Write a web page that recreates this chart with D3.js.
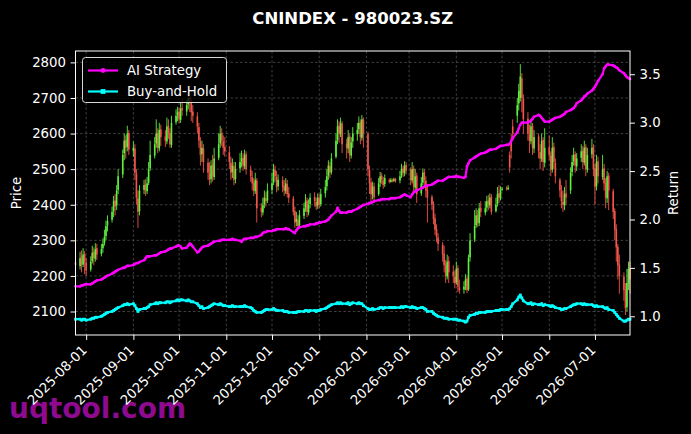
<!DOCTYPE html>
<html><head><meta charset="utf-8">
<script src="https://cdn.jsdelivr.net/npm/d3@7"></script>
<style>html,body{margin:0;padding:0;background:#000;} svg{display:block;}</style>
</head><body>
<svg id="c" width="691" height="434"></svg>
<script>
const title = "CNINDEX - 980023.SZ";
const startDate = "2025-07-25"; // first trading day; one value per weekday after it
const priceTicks = [2100, 2200, 2300, 2400, 2500, 2600, 2700, 2800];
const returnTicks = [1.0, 1.5, 2.0, 2.5, 3.0, 3.5];
const seriesNames = ["AI Strategy", "Buy-and-Hold"];

const open = [
2238,
2228,2255,2232,2262,2238, 2218,2242,2268,2248,2278, 2262,2278,2292,2312,2342, 2358,2382,2412,2398,2442,
2485,2545,2582,2562,2602, 2552,2558,2488,2418,2382, 2442,2458,2438,2462,2502, 2538,2572,2602,2558,2612,
2592,2578,2622,2602,2568, 2632,2652,2662,2638,2672, 2662,2682,2702,2688,2662, 2648,2618,2578,2542,2558,
2518,2488,2472,2512,2478, 2532,2572,2602,2578,2562, 2548,2518,2492,2508,2472, 2502,2522,2532,2508,2542,
2498,2478,2462,2438,2468, 2392,2378,2402,2418,2412, 2442,2462,2498,2478,2452, 2468,2452,2438,2458,2432,
2418,2382,2352,2358,2342, 2368,2392,2412,2378,2402, 2422,2408,2398,2418,2402, 2432,2452,2482,2508,2492,
2535,2582,2622,2598,2628, 2572,2558,2592,2538,2578, 2598,2612,2632,2588,2638, 2598,2498,2462,2428,2452,
2430,2462,2482,2468,2458, 2470,2464,2471,2467,2473, 2468,2482,2502,2488,2512, 2498,2468,2502,2448,2482,
2432,2462,2492,2468,2442, 2422,2398,2362,2332,2308, 2288,2262,2232,2198,2242, 2212,2198,2182,2222,2168,
2162,2172,2192,2162,2252, 2302,2342,2372,2348,2392, 2378,2392,2412,2398,2422, 2382,2402,2432,2418,2442,
2446,2444,2540,2580,2620, 2650,2685,2700,2755,2698, 2642,2598,2578,2622,2558, 2592,2548,2528,2582,2518,
2562,2538,2498,2562,2518, 2470,2438,2408,2398,2432, 2440,2492,2522,2542,2508, 2532,2552,2518,2562,2498,
2542,2562,2502,2452,2522, 2478,2502,2462,2418,2482, 2438,2382,2332,2282,2232, 2198,2162,2112,2178,2222
];
const high = [
2255,
2268,2272,2278,2270,2250, 2255,2285,2280,2292,2290, 2290,2305,2330,2355,2370, 2395,2425,2430,2455,2500,
2555,2600,2595,2622,2610, 2578,2570,2500,2440,2455, 2470,2472,2478,2520,2580, 2590,2640,2615,2630,2625,
2610,2645,2640,2615,2650, 2668,2675,2672,2690,2700, 2695,2712,2710,2700,2680, 2660,2630,2590,2580,2570,
2530,2520,2525,2540,2560, 2600,2622,2615,2595,2590, 2565,2535,2530,2520,2520, 2545,2552,2545,2555,2550,
2510,2495,2475,2490,2475, 2405,2420,2440,2435,2460, 2490,2515,2510,2495,2485, 2480,2470,2475,2470,2450,
2425,2395,2380,2372,2385, 2405,2430,2420,2415,2432, 2435,2420,2432,2430,2445, 2470,2500,2525,2520,2545,
2600,2640,2635,2645,2635, 2585,2610,2600,2590,2618, 2630,2648,2640,2652,2645, 2605,2510,2475,2465,2462,
2475,2492,2490,2478,2485, 2474,2475,2473,2476,2475, 2495,2515,2510,2522,2520, 2505,2520,2510,2500,2490,
2478,2502,2500,2480,2450, 2428,2410,2375,2345,2320, 2295,2285,2245,2260,2255, 2230,2215,2240,2230,2190,
2185,2205,2198,2260,2320, 2385,2390,2385,2405,2410, 2410,2425,2428,2432,2430, 2420,2450,2455,2452,2450,
2452,2455,2550,2600,2640, 2700,2740,2795,2770,2710, 2660,2625,2640,2630,2610, 2600,2570,2600,2590,2615,
2595,2550,2590,2575,2530, 2475,2455,2440,2450,2470, 2505,2540,2560,2550,2545, 2570,2565,2580,2570,2560,
2585,2570,2515,2540,2535, 2540,2515,2475,2495,2490, 2445,2390,2345,2290,2260, 2210,2180,2220,2240,2240
];
const low = [
2215,
2218,2210,2225,2205,2200, 2212,2235,2230,2240,2245, 2255,2265,2285,2300,2325, 2350,2365,2370,2385,2430,
2475,2525,2530,2550,2540, 2535,2470,2400,2335,2370, 2430,2425,2430,2455,2495, 2530,2560,2545,2550,2565,
2562,2570,2585,2560,2560, 2625,2635,2630,2630,2650, 2650,2668,2660,2635,2630, 2600,2560,2510,2520,2490,
2470,2455,2460,2465,2470, 2525,2560,2565,2540,2535, 2500,2470,2475,2455,2460, 2490,2505,2495,2500,2485,
2465,2440,2425,2430,2350, 2365,2370,2390,2395,2405, 2430,2455,2465,2435,2440, 2435,2425,2430,2420,2405,
2370,2335,2340,2330,2335, 2360,2380,2365,2370,2390, 2395,2385,2388,2390,2395, 2420,2440,2470,2475,2485,
2530,2570,2575,2590,2545, 2530,2545,2520,2530,2560, 2580,2600,2570,2580,2560, 2480,2430,2405,2415,2405,
2425,2450,2458,2445,2450, 2460,2462,2463,2464,2462, 2460,2475,2478,2480,2485, 2455,2460,2430,2440,2405,
2425,2455,2455,2420,2350, 2385,2345,2315,2295,2270, 2240,2210,2180,2190,2180, 2180,2165,2175,2155,2150,
2150,2160,2152,2158,2240, 2295,2335,2338,2340,2365, 2370,2380,2385,2390,2372, 2378,2395,2405,2412,2438,
2440,2441,2490,2530,2580, 2630,2665,2690,2660,2600, 2580,2545,2570,2540,2545, 2530,2500,2520,2495,2505,
2525,2480,2490,2500,2460, 2420,2390,2380,2385,2400, 2430,2480,2510,2490,2495, 2520,2500,2510,2480,2490,
2530,2480,2400,2440,2460, 2470,2440,2390,2405,2385, 2360,2300,2240,2190,2150, 2130,2090,2100,2160,2150
];
const close = [
2230,
2250,2230,2260,2240,2215, 2240,2265,2250,2275,2260, 2275,2290,2310,2340,2355, 2380,2410,2395,2440,2480,
2540,2580,2560,2600,2555, 2560,2490,2420,2380,2440, 2455,2440,2460,2500,2540, 2570,2600,2560,2610,2590,
2580,2620,2600,2570,2630, 2650,2660,2640,2670,2665, 2680,2700,2690,2660,2650, 2620,2580,2540,2560,2520,
2490,2470,2510,2480,2530, 2570,2600,2580,2560,2550, 2520,2490,2510,2470,2500, 2520,2530,2510,2540,2500,
2480,2460,2440,2470,2390, 2380,2400,2420,2410,2440, 2460,2500,2480,2450,2470, 2450,2440,2460,2430,2420,
2380,2350,2360,2340,2370, 2390,2410,2380,2400,2420, 2410,2395,2420,2400,2430, 2450,2480,2510,2490,2530,
2580,2620,2600,2630,2570, 2560,2590,2540,2575,2600, 2610,2630,2590,2640,2600, 2500,2460,2430,2450,2420,
2460,2480,2470,2455,2475, 2465,2470,2468,2472,2466, 2480,2500,2490,2510,2495, 2470,2500,2450,2480,2430,
2460,2490,2470,2440,2420, 2400,2360,2330,2310,2290, 2260,2230,2200,2240,2210, 2200,2180,2220,2170,2160,
2170,2190,2160,2250,2300, 2340,2370,2350,2390,2380, 2390,2410,2400,2420,2380, 2400,2430,2420,2440,2445,
2445,2448,2505,2550,2600, 2680,2720,2760,2700,2640, 2600,2580,2620,2560,2590, 2550,2530,2580,2520,2560,
2540,2500,2560,2520,2480, 2440,2410,2400,2430,2420, 2490,2520,2540,2510,2530, 2550,2520,2560,2500,2540,
2560,2500,2450,2520,2480, 2500,2460,2420,2480,2440, 2380,2330,2280,2230,2200, 2160,2110,2180,2220,2190
];
const aiStrategy = [
1.31,
1.31,1.32,1.32,1.33,1.33, 1.33,1.34,1.35,1.36,1.37, 1.38,1.39,1.40,1.41,1.42, 1.44,1.45,1.46,1.47,1.48,
1.50,1.50,1.51,1.52,1.52, 1.53,1.54,1.55,1.55,1.56, 1.58,1.60,1.62,1.62,1.62, 1.63,1.63,1.64,1.65,1.66,
1.67,1.68,1.69,1.70,1.70, 1.72,1.73,1.73,1.72,1.70, 1.71,1.73,1.75,1.74,1.72, 1.66,1.67,1.69,1.71,1.72,
1.73,1.74,1.75,1.76,1.77, 1.78,1.78,1.79,1.79,1.79, 1.79,1.79,1.80,1.79,1.79, 1.78,1.77,1.79,1.80,1.80,
1.81,1.81,1.81,1.82,1.82, 1.84,1.86,1.87,1.87,1.88, 1.88,1.89,1.89,1.90,1.90, 1.90,1.90,1.91,1.90,1.90,
1.87,1.86,1.89,1.91,1.92, 1.93,1.93,1.94,1.94,1.95, 1.95,1.96,1.96,1.97,1.97, 1.98,1.99,2.00,2.02,2.04,
2.08,2.12,2.09,2.07,2.07, 2.07,2.08,2.08,2.08,2.09, 2.11,2.12,2.13,2.14,2.15, 2.16,2.17,2.17,2.18,2.19,
2.20,2.20,2.21,2.21,2.21, 2.21,2.22,2.22,2.22,2.22, 2.23,2.24,2.25,2.26,2.25, 2.23,2.26,2.28,2.29,2.30,
2.32,2.33,2.34,2.35,2.35, 2.36,2.37,2.38,2.39,2.40, 2.40,2.41,2.42,2.43,2.44, 2.44,2.44,2.45,2.44,2.44,
2.43,2.44,2.55,2.58,2.61, 2.64,2.65,2.66,2.67,2.68, 2.69,2.70,2.71,2.72,2.72, 2.73,2.74,2.75,2.76,2.76,
2.77,2.77,2.78,2.81,2.84, 2.90,2.94,2.98,3.00,3.00, 3.00,3.01,3.02,3.04,3.06, 3.08,3.07,3.05,3.03,3.01,
3.01,3.02,3.03,3.04,3.05, 3.06,3.07,3.08,3.09,3.11, 3.13,3.14,3.15,3.17,3.20, 3.23,3.25,3.27,3.28,3.30,
3.33,3.35,3.37,3.40,3.43, 3.50,3.56,3.58,3.60,3.60, 3.59,3.58,3.57,3.56,3.54, 3.51,3.49,3.47,3.46,3.45
];
const buyHold = [
0.97,
0.97,0.96,0.97,0.97,0.96, 0.97,0.98,0.98,0.99,0.99, 1.00,1.01,1.02,1.03,1.04, 1.05,1.06,1.07,1.08,1.09,
1.11,1.12,1.12,1.13,1.12, 1.13,1.11,1.08,1.05,1.07, 1.08,1.08,1.09,1.10,1.12, 1.13,1.14,1.13,1.14,1.14,
1.14,1.15,1.15,1.14,1.15, 1.16,1.17,1.16,1.17,1.17, 1.16,1.17,1.16,1.15,1.15, 1.13,1.11,1.09,1.10,1.08,
1.09,1.10,1.11,1.12,1.13, 1.12,1.13,1.12,1.11,1.11, 1.10,1.10,1.11,1.10,1.10, 1.10,1.10,1.10,1.11,1.10,
1.09,1.08,1.06,1.05,1.04, 1.04,1.05,1.06,1.07,1.07, 1.07,1.08,1.07,1.06,1.06, 1.06,1.05,1.05,1.05,1.04,
1.04,1.04,1.04,1.05,1.05, 1.05,1.06,1.06,1.05,1.06, 1.06,1.05,1.06,1.06,1.07, 1.08,1.09,1.10,1.11,1.12,
1.13,1.14,1.13,1.14,1.13, 1.13,1.14,1.12,1.13,1.14, 1.13,1.14,1.13,1.13,1.11, 1.08,1.07,1.07,1.08,1.07,
1.08,1.09,1.09,1.08,1.09, 1.09,1.09,1.09,1.09,1.09, 1.09,1.10,1.09,1.10,1.10, 1.09,1.10,1.09,1.09,1.08,
1.09,1.09,1.08,1.07,1.05, 1.05,1.03,1.02,1.01,1.00, 0.99,0.98,0.98,0.98,0.97, 0.97,0.97,0.97,0.96,0.96,
0.95,0.94,0.95,0.99,1.01, 1.02,1.03,1.03,1.04,1.04, 1.04,1.05,1.05,1.05,1.05, 1.06,1.06,1.06,1.07,1.07,
1.07,1.07,1.08,1.10,1.13, 1.17,1.20,1.22,1.19,1.16, 1.13,1.13,1.14,1.12,1.13, 1.12,1.12,1.13,1.11,1.12,
1.11,1.10,1.11,1.10,1.09, 1.08,1.07,1.07,1.08,1.08, 1.10,1.11,1.12,1.12,1.13, 1.13,1.12,1.13,1.12,1.12,
1.12,1.11,1.10,1.11,1.10, 1.10,1.09,1.08,1.09,1.07, 1.06,1.04,1.02,1.00,0.98, 0.95,0.95,0.96,0.97,0.97
];

// trading calendar: consecutive weekdays from startDate
function weekdays(start, n) {
  const out = [];
  let d = d3.timeParse("%Y-%m-%d")(start);
  while (out.length < n) {
    const wd = d.getDay();
    if (wd !== 0 && wd !== 6) out.push(new Date(d));
    d = d3.timeDay.offset(d, 1);
  }
  return out;
}
const N = close.length;
const dates = weekdays(startDate, N);
const candles = dates.map((d, i) => ({date: d, o: open[i], h: high[i], l: low[i], c: close[i]}));

const svg = d3.select("#c");
const W = 691, H = 434;
const m = {l: 75.5, r: 630, t: 51, b: 335};
const FONT = "DejaVu Sans, Verdana, sans-serif";

svg.append("rect").attr("width", W).attr("height", H).attr("fill", "#000");

// watermark (behind everything else)
svg.append("text").attr("x", 9).attr("y", 418)
  .attr("font-family", FONT).attr("font-weight", "bold").attr("font-size", 28)
  .attr("fill", "#8e0a8e").text("uqtool.com");

const x = d3.scaleTime().domain(d3.extent(dates)).range([m.l, m.r]);
const yP = d3.scaleLinear().domain([2034, 2832]).range([m.b, m.t]);
const yR = d3.scaleLinear().domain([0.807, 3.74]).range([m.b, m.t]);
const monthTicks = x.ticks(d3.timeMonth.every(1));

// grid
const grid = svg.append("g").attr("stroke", "#5a5a5a").attr("stroke-width", 0.7)
  .attr("stroke-dasharray", "2.5,2.2");
grid.selectAll("line.h").data(priceTicks).join("line")
  .attr("x1", m.l).attr("x2", m.r).attr("y1", d => yP(d)).attr("y2", d => yP(d));
grid.selectAll("line.v").data(monthTicks).join("line")
  .attr("y1", m.t).attr("y2", m.b).attr("x1", d => x(d)).attr("x2", d => x(d));

// candles
const UP = "#5ef03e", DOWN = "#f2554a";
const cg = svg.append("g");
cg.selectAll("line").data(candles).join("line")
  .attr("x1", d => x(d.date)).attr("x2", d => x(d.date))
  .attr("y1", d => yP(d.h)).attr("y2", d => yP(d.l))
  .attr("stroke", d => d.c >= d.o ? UP : DOWN).attr("stroke-width", 0.9);
cg.selectAll("rect").data(candles).join("rect")
  .attr("x", d => x(d.date) - 0.8).attr("width", 1.6)
  .attr("y", d => yP(Math.max(d.o, d.c)))
  .attr("height", d => Math.max(0.8, Math.abs(yP(d.o) - yP(d.c))))
  .attr("fill", d => d.c >= d.o ? UP : DOWN);

// return lines
const series = [
  {name: seriesNames[0], values: aiStrategy, color: "#ff00ff", marker: "circle"},
  {name: seriesNames[1], values: buyHold, color: "#00ffff", marker: "square"}
];
const line = d3.line().x((d, i) => x(dates[i])).y(d => yR(d));
series.forEach(s => {
  const g = svg.append("g");
  g.append("path").datum(s.values).attr("d", line).attr("fill", "none")
    .attr("stroke", s.color).attr("stroke-width", 2.2).attr("stroke-linejoin", "round");
  if (s.marker === "circle") {
    g.selectAll("circle").data(s.values).join("circle")
      .attr("cx", (d, i) => x(dates[i])).attr("cy", d => yR(d)).attr("r", 1.4).attr("fill", s.color);
  } else {
    g.selectAll("rect").data(s.values).join("rect")
      .attr("x", (d, i) => x(dates[i]) - 1.4).attr("y", d => yR(d) - 1.4)
      .attr("width", 2.8).attr("height", 2.8).attr("fill", s.color);
  }
});

// frame
svg.append("rect").attr("x", m.l).attr("y", m.t).attr("width", m.r - m.l).attr("height", m.b - m.t)
  .attr("fill", "none").attr("stroke", "#fff").attr("stroke-width", 1);

// axes
const tickStyle = g => {
  g.select(".domain").remove();
  g.selectAll(".tick line").attr("stroke", "#fff");
  g.selectAll(".tick text").attr("fill", "#fff").attr("font-family", FONT).attr("font-size", 13.3);
};
svg.append("g").attr("transform", `translate(${m.l},0)`)
  .call(d3.axisLeft(yP).tickValues(priceTicks).tickSize(4.9).tickPadding(4.6).tickFormat(d3.format("d")))
  .call(tickStyle);
svg.append("g").attr("transform", `translate(${m.r},0)`)
  .call(d3.axisRight(yR).tickValues(returnTicks).tickSize(4.9).tickPadding(4.6).tickFormat(d3.format(".1f")))
  .call(tickStyle);
const xa = svg.append("g").attr("transform", `translate(0,${m.b})`)
  .call(d3.axisBottom(x).tickValues(monthTicks).tickSize(4.9).tickFormat(d3.timeFormat("%Y-%m-%d")))
  .call(tickStyle);
xa.selectAll(".tick text")
  .attr("text-anchor", "end").attr("dy", null).attr("y", null)
  .attr("transform", "translate(1,16) rotate(-45)");

// axis titles
svg.append("text").attr("transform", `translate(21,${(m.t + m.b) / 2}) rotate(-90)`)
  .attr("text-anchor", "middle").attr("fill", "#fff").attr("font-family", FONT).attr("font-size", 13.3)
  .text("Price");
svg.append("text").attr("transform", `translate(678,${(m.t + m.b) / 2}) rotate(-90)`)
  .attr("text-anchor", "middle").attr("fill", "#fff").attr("font-family", FONT).attr("font-size", 13.3)
  .text("Return");

// title
svg.append("text").attr("x", (m.l + m.r) / 2).attr("y", 24).attr("text-anchor", "middle")
  .attr("fill", "#fff").attr("font-family", FONT).attr("font-weight", "bold").attr("font-size", 16.5)
  .text(title);

// legend
const lg = svg.append("g");
lg.append("rect").attr("x", 82.5).attr("y", 57.5).attr("width", 144).attr("height", 45).attr("rx", 3)
  .attr("fill", "#000").attr("fill-opacity", 0.8).attr("stroke", "#d8d8d8").attr("stroke-width", 1);
series.forEach((s, i) => {
  const yy = 70.5 + i * 21;
  lg.append("line").attr("x1", 88).attr("x2", 118).attr("y1", yy).attr("y2", yy)
    .attr("stroke", s.color).attr("stroke-width", 2.2);
  if (s.marker === "circle") lg.append("circle").attr("cx", 103).attr("cy", yy).attr("r", 2.4).attr("fill", s.color);
  else lg.append("rect").attr("x", 100.6).attr("y", yy - 2.4).attr("width", 4.8).attr("height", 4.8).attr("fill", s.color);
  lg.append("text").attr("x", 127).attr("y", yy + 4.8).attr("fill", "#fff")
    .attr("font-family", FONT).attr("font-size", 13.3).text(s.name);
});
</script>
</body></html>
